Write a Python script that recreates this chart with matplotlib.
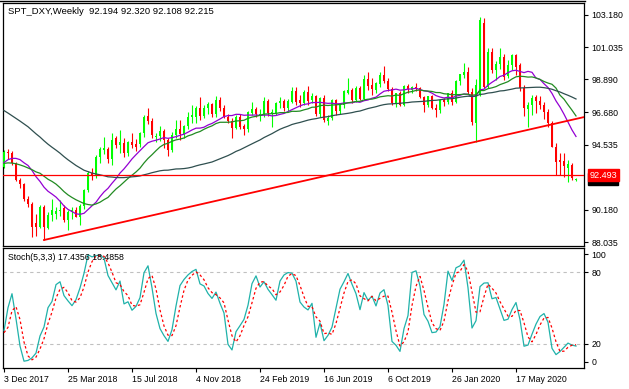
import matplotlib
matplotlib.use("Agg")
import matplotlib.pyplot as plt
import matplotlib.transforms as mtransforms
import numpy as np

# ---------------- data ----------------
# weekly OHLC, first bar = week of 3 Dec 2017
opens = [93.06, 94.06, 93.95, 93.28, 92.17, 91.9, 90.88, 90.57, 89.3, 89.06,
         90.39, 89.0, 89.84, 89.9, 90.1, 90.28, 89.5, 90.06, 90.2, 89.73,
         90.44, 91.5, 92.62, 92.5, 93.73, 94.15, 94.22, 93.55, 94.95, 94.5,
         94.62, 93.95, 94.73, 94.55, 94.6, 95.28, 96.45, 96.1, 95.05, 95.12,
         95.45, 94.84, 94.17, 95.17, 95.6, 95.24, 95.77, 96.35, 96.4, 96.95,
         96.44, 96.95, 97.23, 96.57, 97.5, 96.95, 96.35, 96.13, 95.62, 96.4,
         95.77, 95.55, 96.66, 96.88, 96.45, 96.57, 97.46, 96.6, 96.62, 97.33,
         97.45, 97.0, 97.4, 98.13, 97.5, 97.33, 98.06, 97.5, 97.75, 96.57,
         97.62, 96.1, 96.28, 97.5, 96.75, 97.17, 98.0, 98.18, 97.5, 98.28,
         97.6, 98.9, 98.5, 98.2, 98.55, 99.17, 98.8, 98.22, 97.28, 97.95,
         97.17, 98.44, 98.2, 98.4, 98.28, 97.73, 97.17, 97.77, 96.95, 96.84,
         97.51, 97.35, 97.95, 97.4, 98.77, 99.15, 99.4, 98.07, 96.0, 97.84,
         102.62, 98.4, 100.73, 99.51, 99.9, 100.4, 99.1, 99.84, 100.5, 99.84,
         98.29, 96.9, 97.2, 97.7, 97.44, 97.2, 96.69, 95.95, 94.4, 93.5,
         93.45, 93.0, 93.2, 92.194]
highs = [94.17, 94.25, 94.1, 93.4, 92.3, 92.0, 91.1, 90.7, 89.9, 90.5,
         90.5, 90.05, 90.93, 90.4, 90.84, 90.5, 90.15, 90.4, 90.4, 90.6,
         91.6, 92.8, 92.95, 93.85, 94.35, 95.06, 94.35, 95.3, 95.1, 95.5,
         95.0, 94.8, 95.3, 94.9, 95.35, 96.5, 97.0, 96.3, 95.3, 95.8,
         95.6, 94.95, 95.4, 96.15, 96.15, 95.85, 96.7, 97.2, 97.1, 97.7,
         97.2, 97.35, 97.3, 97.77, 97.7, 97.2, 96.6, 96.3, 96.5, 96.55,
         95.9, 96.8, 97.4, 97.05, 96.9, 97.7, 97.6, 96.9, 97.35, 97.7,
         97.6, 97.6, 98.4, 98.35, 97.84, 98.2, 98.44, 97.95, 97.85, 97.7,
         97.84, 96.5, 97.55, 97.6, 97.3, 98.2, 98.95, 98.3, 98.45, 98.45,
         99.17, 99.4, 99.0, 98.73, 99.4, 99.78, 98.95, 98.4, 98.0, 98.1,
         98.5, 98.55, 98.45, 98.66, 98.35, 97.8, 97.8, 97.85, 97.22, 97.6,
         97.65, 98.0, 98.2, 98.85, 99.25, 100.0, 99.7, 98.3, 98.9, 103.07,
         102.95, 100.96, 100.95, 100.1, 101.0, 100.55, 100.15, 100.56, 100.55, 99.97,
         98.5, 97.4, 97.85, 97.85, 97.8, 97.35, 96.9, 96.1, 94.65, 94.0,
         93.95, 93.5, 93.3, 92.320]
lows = [92.95, 93.6, 93.15, 92.1, 91.65, 90.75, 90.35, 88.39, 88.45, 88.95,
        88.17, 88.9, 89.45, 89.6, 89.8, 89.35, 88.84, 89.6, 89.7, 89.17,
        90.25, 91.4, 92.2, 92.3, 93.3, 93.9, 93.3, 93.2, 94.3, 93.95,
        93.7, 93.75, 94.3, 94.1, 94.35, 95.05, 95.9, 95.0, 94.73, 94.8,
        94.28, 93.8, 94.05, 94.95, 94.84, 95.0, 95.6, 95.95, 95.95, 96.17,
        96.3, 96.6, 96.4, 96.35, 96.8, 96.3, 95.95, 95.0, 95.55, 95.6,
        95.16, 95.4, 96.5, 96.35, 96.1, 96.35, 96.45, 95.73, 96.5, 97.0,
        96.75, 96.8, 97.3, 97.17, 97.06, 97.2, 97.17, 97.3, 96.45, 96.4,
        96.06, 95.84, 96.15, 96.5, 96.6, 97.0, 97.9, 97.3, 97.35, 97.5,
        97.5, 98.17, 97.84, 97.95, 98.4, 98.62, 98.1, 97.2, 97.05, 97.1,
        97.1, 98.0, 97.95, 98.1, 97.65, 96.73, 97.05, 96.9, 96.35, 96.65,
        97.1, 97.25, 97.2, 97.3, 98.5, 98.95, 97.9, 95.85, 94.73, 97.75,
        98.3, 98.3, 99.3, 98.85, 99.6, 98.85, 99.0, 99.5, 99.2, 98.1,
        96.45, 95.73, 96.5, 96.65, 96.9, 96.25, 95.7, 94.35, 92.5, 92.5,
        92.4, 92.06, 92.2, 92.108]
closes = [94.06, 93.95, 93.28, 92.17, 91.9, 90.88, 90.57, 89.05, 89.06, 90.39,
          89.06, 89.84, 90.17, 90.1, 90.2, 89.5, 90.06, 90.2, 89.73, 90.44,
          91.5, 92.62, 92.5, 93.73, 94.22, 94.28, 93.55, 94.84, 94.5, 94.73,
          93.95, 94.73, 94.5, 94.4, 95.28, 96.4, 96.1, 95.17, 95.12, 95.45,
          94.84, 94.17, 95.17, 95.6, 95.24, 95.77, 96.35, 96.5, 96.95, 96.44,
          96.95, 97.23, 96.57, 97.5, 96.95, 96.4, 96.13, 95.62, 96.4, 95.68,
          95.55, 96.7, 96.88, 96.57, 96.57, 97.46, 96.66, 96.7, 97.33, 97.45,
          97.0, 97.45, 98.13, 97.4, 97.33, 98.06, 97.46, 97.75, 96.57, 97.62,
          96.17, 96.28, 97.5, 96.8, 97.17, 98.13, 98.18, 97.5, 98.28, 97.6,
          98.9, 98.44, 98.22, 98.62, 99.17, 98.8, 98.22, 97.28, 97.95, 97.17,
          98.44, 98.22, 98.4, 98.28, 97.73, 97.17, 97.77, 96.95, 96.84, 97.51,
          97.35, 97.95, 97.4, 98.77, 99.22, 99.4, 98.07, 96.02, 98.5, 102.85,
          98.4, 100.73, 99.51, 99.9, 100.4, 99.07, 99.84, 100.5, 99.73, 98.29,
          96.95, 97.2, 97.62, 97.44, 97.2, 96.69, 95.95, 94.4, 93.4, 93.4,
          93.1, 93.22, 92.3, 92.215]

# closes of the 49 weeks before the first bar (feed the moving averages)
pre_closes = [102.21, 102.21, 101.17, 100.74, 100.55, 99.80, 100.78, 100.94, 101.12, 101.50,
              101.25, 100.34, 99.70, 100.34, 101.09, 100.55, 99.90, 99.05, 98.58, 99.21,
              97.14, 97.40, 96.70, 97.26, 97.13, 97.26, 95.63, 96.01, 95.15, 93.85,
              93.29, 93.54, 93.07, 93.43, 92.69, 92.84, 91.33, 92.04, 92.19, 93.07,
              93.82, 93.07, 93.68, 94.92, 94.81, 94.42, 93.66, 92.79, 92.91]
# highs/lows of the last 10 weeks before the first bar (feed the stochastic)
pre_highs = [93.4, 94.27, 93.8, 93.8, 95.15, 95.0, 95.05, 94.5, 93.8, 93.25]
pre_lows = [92.0, 93.0, 92.75, 92.95, 93.4, 94.2, 94.15, 93.4, 92.5, 92.4]

ma_periods = [14, 20, 50]
hline_price = 92.493
trend_anchor1 = (10, 88.17)
trend_anchor2 = (118, 94.73)

price_ticks = [103.180, 101.035, 98.890, 96.680, 94.535, 90.180, 88.035]
date_labels = ["3 Dec 2017", "25 Mar 2018", "15 Jul 2018", "4 Nov 2018", "24 Feb 2019",
               "16 Jun 2019", "6 Oct 2019", "26 Jan 2020", "17 May 2020"]
title_main = "SPT_DXY,Weekly  92.194 92.320 92.108 92.215"
title_stoch = "Stoch(5,3,3) 17.4356 18.4858"
last_bid = "92.215"

# ---------------- helpers ----------------
O = np.array(opens); Hh = np.array(highs); Ll = np.array(lows); C = np.array(closes)
n = len(C)
idx = np.arange(n)

allc = np.array(pre_closes + closes)
npre = len(pre_closes)

def sma(period):
    out = np.full(n, np.nan)
    for i in range(n):
        j = npre + i
        if j - period + 1 >= 0:
            out[i] = allc[j - period + 1:j + 1].mean()
    return out

allh = np.array(pre_highs + highs)
alll = np.array(pre_lows + lows)
allc2 = np.array(pre_closes[-len(pre_highs):] + closes)
m = len(allh)
k_raw_num = np.full(m, np.nan); k_raw_den = np.full(m, np.nan)
for j in range(4, m):
    hh = allh[j - 4:j + 1].max(); ll = alll[j - 4:j + 1].min()
    k_raw_num[j] = allc2[j] - ll; k_raw_den[j] = hh - ll
K = np.full(m, np.nan)
for j in range(6, m):
    K[j] = 100 * k_raw_num[j - 2:j + 1].sum() / k_raw_den[j - 2:j + 1].sum()
D = np.full(m, np.nan)
for j in range(8, m):
    D[j] = K[j - 2:j + 1].mean()
off = len(pre_highs)
Kc = K[off:]; Dc = D[off:]

# ---------------- figure ----------------
W, Hpx = 629, 389
FONT = "Liberation Sans"
plt.rcParams["font.family"] = [FONT, "DejaVu Sans"]
fig = plt.figure(figsize=(W / 100, Hpx / 100), dpi=100)
fig.patch.set_facecolor("white")

def rect(l, t, r, b):
    return [l / W, 1 - b / Hpx, (r - l) / W, (b - t) / Hpx]

ax = fig.add_axes(rect(3, 3, 584, 246))
ax2 = fig.add_axes(rect(3, 248.3, 584, 367.7))

XL = (-0.25, 145.0)
ax.set_xlim(*XL)
ax2.set_xlim(*XL)
ax.set_ylim(87.77, 103.98)
ax2.set_ylim(0, 100)

fs = 6.3
# candles
cols = np.where(C >= O, "#00ff00", "#ff0000")
ax.vlines(idx, Ll, Hh, colors=cols, lw=0.8, zorder=2)
ax.bar(idx, np.maximum(np.abs(C - O), 0.05), bottom=np.minimum(O, C), width=0.68,
       color=cols, lw=0, zorder=3)

# moving averages
ma_cols = ["#9400d3", "#228b22", "#2f4f4f"]
for p, col in zip(ma_periods, ma_cols):
    ax.plot(idx, sma(p), color=col, lw=0.9, zorder=4)

# trend line (ray to the right) and horizontal line
x1, y1 = trend_anchor1; x2, y2 = trend_anchor2
slope = (y2 - y1) / (x2 - x1)
ax.plot([x1, XL[1]], [y1, y1 + slope * (XL[1] - x1)], color="#ff0000", lw=1.3, zorder=5)
ax.axhline(hline_price, color="#ff0000", lw=0.9, zorder=5)

# axes styles
for a in (ax, ax2):
    for s in a.spines.values():
        s.set_color("black"); s.set_linewidth(0.9)
    a.set_facecolor("white")

ax.yaxis.tick_right()
ax.set_yticks(price_ticks)
ax.set_yticklabels(["%.3f" % v for v in price_ticks])
ax.tick_params(axis="y", direction="out", length=3, width=0.8, pad=2.5, labelsize=fs)
ax.set_xticks([])

# price labels on axis
trans = mtransforms.blended_transform_factory(ax.transAxes, ax.transData)
ax.text(1.009, float(last_bid), last_bid, transform=trans, ha="left", va="center",
        fontsize=fs, color="white", zorder=10,
        bbox=dict(boxstyle="square,pad=0.18", fc="black", ec="black"), clip_on=False)
ax.text(1.009, hline_price, "%.3f" % hline_price, transform=trans, ha="left", va="center",
        fontsize=fs + 0.3, color="white", zorder=11,
        bbox=dict(boxstyle="square,pad=0.18", fc="#ff0000", ec="#ff0000"), clip_on=False)

# stochastic
ax2.plot(idx, Kc, color="#20b2aa", lw=0.9, zorder=4)
ax2.plot(idx, Dc, color="#ff0000", lw=0.9, ls=(0, (2, 2)), zorder=5)
for lv in (20, 80):
    ax2.axhline(lv, color="#c0c0c0", lw=0.8, ls=(0, (3, 3)), zorder=1)
ax2.yaxis.tick_right()
ax2.set_yticks([95.2, 80, 20, 4.8])
ax2.set_yticklabels(["100", "80", "20", "0"])
ax2.tick_params(axis="y", direction="out", length=3, width=0.8, pad=2.5, labelsize=fs)
ax2.set_xticks(np.arange(len(date_labels)) * 16)
ax2.set_xticklabels(date_labels)
for t in ax2.get_xticklabels():
    t.set_horizontalalignment("left")
ax2.tick_params(axis="x", direction="out", length=3, width=0.8, pad=2, labelsize=fs)

# titles
fig.text(8 / W, 1 - 11.5 / Hpx, title_main, fontsize=fs + 0.5, ha="left", va="center")
fig.text(8 / W, 1 - 257 / Hpx, title_stoch, fontsize=fs, ha="left", va="center")

# top border line
fig.add_artist(plt.Line2D([0, 585 / W], [1 - 0.6 / Hpx, 1 - 0.6 / Hpx], color="black",
                          lw=1.0, transform=fig.transFigure))

fig.savefig("out.png", dpi=100, facecolor="white")
